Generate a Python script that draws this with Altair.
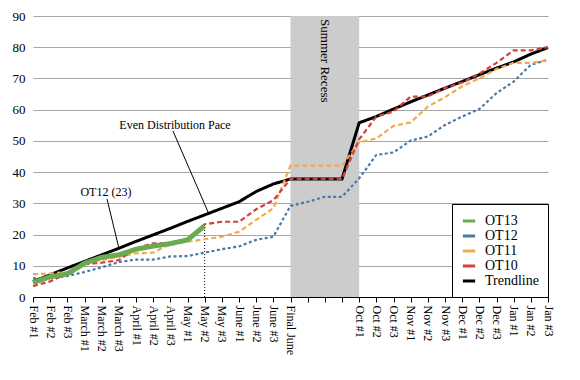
import altair as alt
import pandas as pd

labels = ["Feb #1", "Feb #2", "Feb #3", "March #1", "March #2", "March #3",
          "April #1", "April #2", "April #3", "May #1", "May #2", "May #3",
          "June #1", "June #2", "June #3", "Final June", "", "", "",
          "Oct #1", "Oct #2", "Oct #3", "Nov #1", "Nov #2", "Nov #3",
          "Dec #1", "Dec #2", "Dec #3", "Jan #1", "Jan #2", "Jan #3"]

ot13 = [4.6, 6.5, 7.4, 10.8, 12.7, 13.5, 15.3, 16.3, 17.1, 18.3, 22.8]
ot12 = [6, 6, 6.7, 8, 9.5, 11.2, 12, 12, 13, 13.1, 14.2, 15.3, 16.2, 18.3, 19.3,
        29.2, 30.5, 32.1, 32.1, 38, 45.5, 46.3, 50.1, 51.4, 55.1, 57.8, 60.2,
        65.3, 69, 74.4, 76]
ot11 = [7.3, 7.5, 8, 10.9, 11.9, 12.9, 14, 14.2, 17, 17.7, 18.5, 19.3, 20.9,
        24.7, 28.4, 42.1, 42.1, 42.1, 42.1, 49.5, 50.8, 54.8, 55.9, 61, 64,
        67.5, 70, 73, 75, 75, 75.8]
ot10 = [3.5, 5, 7.5, 10.5, 11, 11.8, 15.6, 17.2, 17.2, 18.3, 23.3, 24.1, 24.1,
        28.1, 31, 37.8, 37.8, 37.8, 37.8, 50.5, 57.8, 59.4, 64.2, 64.2, 66.9,
        68.7, 71.5, 75, 79, 79, 80]
trend = [5, 7.1, 9.3, 11.4, 13.5, 15.6, 17.8, 19.9, 22, 24.2, 26.3, 28.4, 30.5,
         33.8, 36.2, 37.8, 37.8, 37.8, 37.8, 55.8, 57.8, 60.2, 62.5, 64.7, 66.9,
         69, 71.2, 73.3, 75.3, 77.8, 79.9]

series_names = ["OT13", "OT12", "OT11", "OT10", "Trendline"]
series_colors = ["#6aaa50", "#4a78a8", "#f2ab4a", "#d4403a", "#000000"]
series_dash = [[1, 0], [3, 2.5], [5, 3], [5, 3], [1, 0]]
series_width = [5, 2.2, 2.2, 2.2, 3]

# annotation text and pointer lines (x index, y value)
ann_text = ["Even Distribution Pace", "OT12 (23)"]
ann_tx = [8.27, 4.25]
ann_ty = [55.1, 33.7]
ann_x1 = [8.15, 4.31]
ann_y1 = [53.2, 31.4]
ann_x2 = [10.2, 5.0]
ann_y2 = [27.2, 15.7]

FONT = "Liberation Serif, Times New Roman, DejaVu Serif, serif"

draw_order = ["Trendline", "OT12", "OT11", "OT10", "OT13"]
vals = {"OT13": ot13, "OT12": ot12, "OT11": ot11, "OT10": ot10, "Trendline": trend}
rows = []
for s in draw_order:
    for i, v in enumerate(vals[s]):
        rows.append({"series": s, "sdash": s + " ", "swidth": s + "  ", "x": i, "y": v})
df = pd.DataFrame(rows)

label_expr = "[" + ",".join("'" + l + "'" for l in labels) + "][datum.value]"
xscale = alt.Scale(domain=[0, len(labels) - 1], nice=False, zero=False)
yscale = alt.Scale(domain=[0, 90], nice=False)
xaxis = alt.Axis(values=list(range(len(labels))), labelExpr=label_expr,
                 labelAngle=90, labelAlign="left", labelBaseline="middle",
                 labelFont=FONT, labelFontSize=12, labelColor="black",
                 domainColor="black", tickColor="black", tickSize=5,
                 grid=False, title=None, labelPadding=3, labelOverlap=False)
yaxis = alt.Axis(values=list(range(0, 91, 10)), grid=True, gridColor="#a6a6a6",
                 domain=False, ticks=False, labelFont=FONT, labelFontSize=13,
                 labelColor="black", labelPadding=8, title=None, labelOverlap=False)


def X(f):
    return alt.X(f, scale=xscale, axis=xaxis)


def Y(f):
    return alt.Y(f, scale=yscale, axis=yaxis)


recess = pd.DataFrame({"x": [labels.index("Final June")], "x2": [labels.index("Oct #1")],
                       "y": [0], "y2": [90]})
rect = alt.Chart(recess).mark_rect(color="#cccccc").encode(
    x=X("x:Q"), x2="x2:Q", y=Y("y:Q"), y2="y2:Q")

recess_txt = alt.Chart(pd.DataFrame({"x": [17], "y": [89], "t": ["Summer Recess"]})).mark_text(
    angle=90, align="left", baseline="middle", font=FONT, fontSize=13, color="black"
).encode(x=X("x:Q"), y=Y("y:Q"), text="t:N")

lines = alt.Chart(df).mark_line(strokeCap="butt").encode(
    x=X("x:Q"),
    y=Y("y:Q"),
    color=alt.Color("series:N", scale=alt.Scale(domain=series_names, range=series_colors),
                    legend=alt.Legend(title=None, orient="bottom-right", offset=0,
                                      fillColor="white", strokeColor="black", padding=9,
                                      labelFont=FONT, labelFontSize=14, labelColor="black",
                                      symbolType="stroke", symbolStrokeWidth=3,
                                      symbolSize=150, rowPadding=0, labelOffset=8)),
    strokeDash=alt.StrokeDash("sdash:N",
                              scale=alt.Scale(domain=[s + " " for s in series_names], range=series_dash),
                              legend=None),
    strokeWidth=alt.StrokeWidth("swidth:N",
                                scale=alt.Scale(type="ordinal", domain=[s + "  " for s in series_names],
                                                range=series_width),
                                legend=None),
)

may2 = pd.DataFrame({"x": [labels.index("May #2")], "y": [0], "y2": [ot13[-1]]})
dotted = alt.Chart(may2).mark_rule(color="black", strokeDash=[1, 2], strokeWidth=1).encode(
    x=X("x:Q"), y=Y("y:Q"), y2="y2:Q")

ann = pd.DataFrame({"t": ann_text, "tx": ann_tx, "ty": ann_ty,
                    "x1": ann_x1, "y1": ann_y1, "x2": ann_x2, "y2": ann_y2})
ann_lines = alt.Chart(ann).mark_rule(color="black", strokeWidth=1).encode(
    x=X("x1:Q"), y=Y("y1:Q"), x2="x2:Q", y2="y2:Q")
ann_texts = alt.Chart(ann).mark_text(font=FONT, fontSize=12, color="black").encode(
    x=X("tx:Q"), y=Y("ty:Q"), text="t:N")

chart = alt.layer(rect, recess_txt, dotted, lines, ann_lines, ann_texts).properties(
    width=515, height=281,
    autosize=alt.AutoSizeParams(type="none"),
    padding={"left": 25, "top": 8, "right": 20, "bottom": 70},
).configure_view(stroke=None)

chart.save("out.html", embed_options={"renderer": "svg", "actions": False})
